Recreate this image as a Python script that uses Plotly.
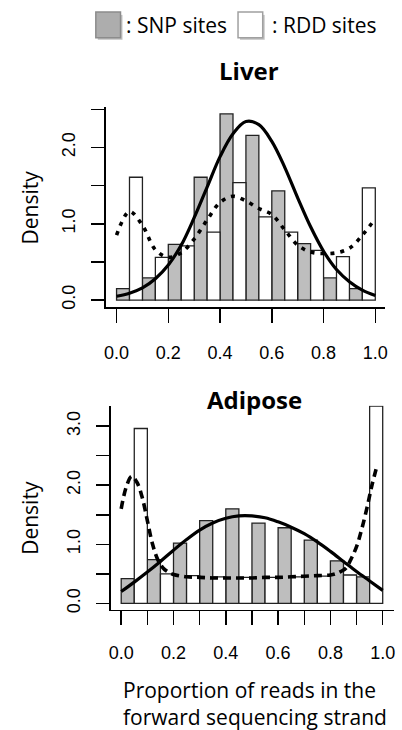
import plotly.graph_objects as go

W, H = 402, 730

# ---------------- data ----------------
bin_left = [0.0, 0.1, 0.2, 0.3, 0.4, 0.5, 0.6, 0.7, 0.8, 0.9]

liver_snp = [0.15, 0.29, 0.73, 1.61, 2.44, 2.16, 1.43, 0.74, 0.29, 0.15]
liver_rdd = [1.61, 0.56, 0.71, 0.89, 1.54, 1.09, 0.89, 0.65, 0.57, 1.47]

adipose_snp = [0.42, 0.74, 1.02, 1.40, 1.60, 1.36, 1.28, 1.07, 0.72, 0.45]
adipose_rdd = [2.96, 0.50, 0.47, 0.45, 0.44, 0.44, 0.45, 0.46, 0.48, 3.34]

curve_x = [0.0, 0.05, 0.1, 0.15, 0.2, 0.25, 0.3, 0.35, 0.4, 0.45, 0.5,
           0.55, 0.6, 0.65, 0.7, 0.75, 0.8, 0.85, 0.9, 0.95, 1.0]
liver_snp_density = [0.05, 0.09, 0.16, 0.28, 0.46, 0.72, 1.08, 1.48, 1.88, 2.18, 2.34,
                     2.30, 2.08, 1.74, 1.34, 0.96, 0.64, 0.40, 0.24, 0.13, 0.06]
liver_rdd_density = [0.85, 1.16, 0.98, 0.66, 0.56, 0.62, 0.80, 1.05, 1.28, 1.36, 1.30,
                     1.20, 1.12, 0.92, 0.72, 0.63, 0.61, 0.62, 0.68, 0.85, 1.07]
adipose_snp_density = [0.20, 0.36, 0.53, 0.71, 0.90, 1.08, 1.24, 1.36, 1.44, 1.48, 1.48,
                       1.45, 1.38, 1.29, 1.18, 1.04, 0.88, 0.71, 0.54, 0.38, 0.22]

adipose_rdd_x = [0.0, 0.02, 0.04, 0.06, 0.08, 0.10, 0.12, 0.14, 0.16, 0.18, 0.20,
                 0.25, 0.30, 0.35, 0.40, 0.45, 0.50, 0.55, 0.60, 0.65, 0.70, 0.75,
                 0.80, 0.82, 0.84, 0.86, 0.88, 0.90, 0.92, 0.94, 0.96, 0.98]
adipose_rdd_density = [1.60, 1.98, 2.15, 2.05, 1.80, 1.40, 1.00, 0.74, 0.60, 0.53, 0.49,
                       0.45, 0.44, 0.43, 0.43, 0.43, 0.43, 0.44, 0.44, 0.45, 0.46, 0.47,
                       0.48, 0.50, 0.54, 0.60, 0.76, 0.96, 1.26, 1.62, 2.02, 2.36]

liver_xticks = [0.0, 0.2, 0.4, 0.6, 0.8, 1.0]
adipose_xticks = [0.0, 0.1, 0.2, 0.3, 0.4, 0.5, 0.6, 0.7, 0.8, 0.9, 1.0]
x_labels = {0.0: "0.0", 0.2: "0.2", 0.4: "0.4", 0.6: "0.6", 0.8: "0.8", 1.0: "1.0"}
liver_yticks = [0.0, 0.5, 1.0, 1.5, 2.0, 2.5]
adipose_yticks = [0.0, 0.5, 1.0, 1.5, 2.0, 2.5, 3.0]
y_labels = {0.0: "0.0", 1.0: "1.0", 2.0: "2.0", 3.0: "3.0"}

legend_labels = [": SNP sites", ": RDD sites"]
panel_titles = ["Liver", "Adipose"]
y_title = "Density"
x_title = "Proportion of reads in the<br>forward sequencing strand"

# ---------------- style ----------------
GREY = "#bebebe"
TEXT_FONT = "Open Sans"
TICK_FONT = "Liberation Sans, Arial"


def px_x(p):
    return p / W


def px_y(p):
    return 1 - p / H


fig = go.Figure()


def add_panel(snp, rdd, xa, ya, snp_x, snp_y, rdd_x, rdd_y, rdd_dash):
    fig.add_trace(go.Bar(x=[b + 0.025 for b in bin_left], y=snp, width=0.05,
                         marker=dict(color=GREY, line=dict(color="#222", width=1.3)),
                         xaxis=xa, yaxis=ya, showlegend=False))
    fig.add_trace(go.Bar(x=[b + 0.075 for b in bin_left], y=rdd, width=0.05,
                         marker=dict(color="white", line=dict(color="#222", width=1.3)),
                         xaxis=xa, yaxis=ya, showlegend=False))
    fig.add_trace(go.Scatter(x=snp_x, y=snp_y, mode="lines",
                             line=dict(color="black", width=3.2, shape="spline"),
                             xaxis=xa, yaxis=ya, showlegend=False))
    fig.add_trace(go.Scatter(x=rdd_x, y=rdd_y, mode="lines",
                             line=dict(color="black", width=3.6, dash=rdd_dash, shape="spline"),
                             xaxis=xa, yaxis=ya, showlegend=False))


add_panel(liver_snp, liver_rdd, "x", "y", curve_x, liver_snp_density,
          curve_x, liver_rdd_density, "4px,6px")
add_panel(adipose_snp, adipose_rdd, "x2", "y2", curve_x, adipose_snp_density,
          adipose_rdd_x, adipose_rdd_density, "8px,5px")


def xaxis_cfg(dom, rng, ticks, standoff):
    return dict(domain=dom, range=rng, tickvals=ticks,
                ticktext=[x_labels.get(round(t, 1), "") for t in ticks],
                ticks="outside", ticklen=14, tickwidth=1.5, tickcolor="black",
                showline=True, linecolor="black", linewidth=1.5,
                showgrid=False, zeroline=False, fixedrange=True,
                tickfont=dict(family=TICK_FONT, size=18, color="black"),
                ticklabelstandoff=standoff, ticklabeloverflow="allow")


def yaxis_cfg(dom, rng, ticks, anchor):
    return dict(domain=dom, range=rng, tickvals=ticks, anchor=anchor,
                ticktext=[y_labels.get(round(t, 1), "") for t in ticks],
                ticks="outside", ticklen=13, tickwidth=1.5, tickcolor="black",
                showline=True, linecolor="black", linewidth=1.5,
                showgrid=False, zeroline=False, fixedrange=True, tickangle=-90,
                tickfont=dict(family=TICK_FONT, size=18, color="black"),
                ticklabelstandoff=9)


# liver: x 0 -> 116px, 1 -> 378px ; y 0 -> 301.7px, per unit 76.7px
liver_x_dom = [px_x(105), px_x(388)]
liver_x_rng = [(105 - 116) / 262, (388 - 116) / 262]
liver_y_dom = [px_y(309), px_y(108)]
liver_y_rng = [-(309 - 301.7) / 76.7, (301.7 - 108) / 76.7]

# adipose: x 0 -> 120.7px, per unit 264.8px ; y 0 -> 606.7px, per unit 59.4px
ad_x_dom = [px_x(110), px_x(397)]
ad_x_rng = [(110 - 120.7) / 264.8, (397 - 120.7) / 264.8]
ad_y_dom = [px_y(613), px_y(408)]
ad_y_rng = [-(613 - 606.7) / 59.4, (606.7 - 408) / 59.4]

fig.update_layout(
    width=W, height=H,
    margin=dict(l=0, r=0, t=0, b=0),
    paper_bgcolor="white", plot_bgcolor="white",
    barmode="overlay", bargap=0,
    showlegend=False,
    xaxis=dict(anchor="y", **xaxis_cfg(liver_x_dom, liver_x_rng, liver_xticks, 15)),
    yaxis=yaxis_cfg(liver_y_dom, liver_y_rng, liver_yticks, "x"),
    xaxis2=dict(anchor="y2", **xaxis_cfg(ad_x_dom, ad_x_rng, adipose_xticks, 12)),
    yaxis2=yaxis_cfg(ad_y_dom, ad_y_rng, adipose_yticks, "x2"),
)

# legend boxes (with soft shadow)
shapes = []
for (x0, fill, border) in [(95, "#adadad", "#8c8c8c"), (239, "white", "#a0a0a0")]:
    shapes.append(dict(type="rect", xref="paper", yref="paper",
                       x0=px_x(x0 + 2), x1=px_x(x0 + 27), y0=px_y(40), y1=px_y(15),
                       fillcolor="#9a9a9a", line=dict(width=0), opacity=0.6))
    shapes.append(dict(type="rect", xref="paper", yref="paper",
                       x0=px_x(x0), x1=px_x(x0 + 25), y0=px_y(38), y1=px_y(12),
                       fillcolor=fill, line=dict(color=border, width=1.5)))
fig.update_layout(shapes=shapes)

ann = []
ann.append(dict(text=legend_labels[0], x=px_x(124), y=px_y(25), xref="paper", yref="paper",
                xanchor="left", yanchor="middle", showarrow=False,
                font=dict(family=TEXT_FONT, size=21, color="black")))
ann.append(dict(text=legend_labels[1], x=px_x(271), y=px_y(25), xref="paper", yref="paper",
                xanchor="left", yanchor="middle", showarrow=False,
                font=dict(family=TEXT_FONT, size=21, color="black")))
ann.append(dict(text="<b>" + panel_titles[0] + "</b>", x=px_x(250), y=px_y(71), xref="paper",
                yref="paper", xanchor="center", yanchor="middle", showarrow=False,
                font=dict(family=TEXT_FONT, size=24, color="black")))
ann.append(dict(text="<b>" + panel_titles[1] + "</b>", x=px_x(256), y=px_y(402), xref="paper",
                yref="paper", xanchor="center", yanchor="middle", showarrow=False,
                font=dict(family=TEXT_FONT, size=24, color="black")))
for yc in (209, 521):
    ann.append(dict(text=y_title, x=px_x(28), y=px_y(yc), xref="paper", yref="paper",
                    xanchor="center", yanchor="middle", textangle=-90, showarrow=False,
                    font=dict(family=TEXT_FONT, size=21, color="black")))
ann.append(dict(text=x_title, x=px_x(120), y=px_y(707), xref="paper", yref="paper",
                xanchor="left", yanchor="middle", align="left", showarrow=False,
                font=dict(family=TEXT_FONT, size=21, color="black")))
fig.update_layout(annotations=ann)

fig.write_html("out.html",
               config={"displayModeBar": False, "staticPlot": True},
               post_script="document.body.style.margin='0';"
                           "document.body.style.overflow='hidden';")
